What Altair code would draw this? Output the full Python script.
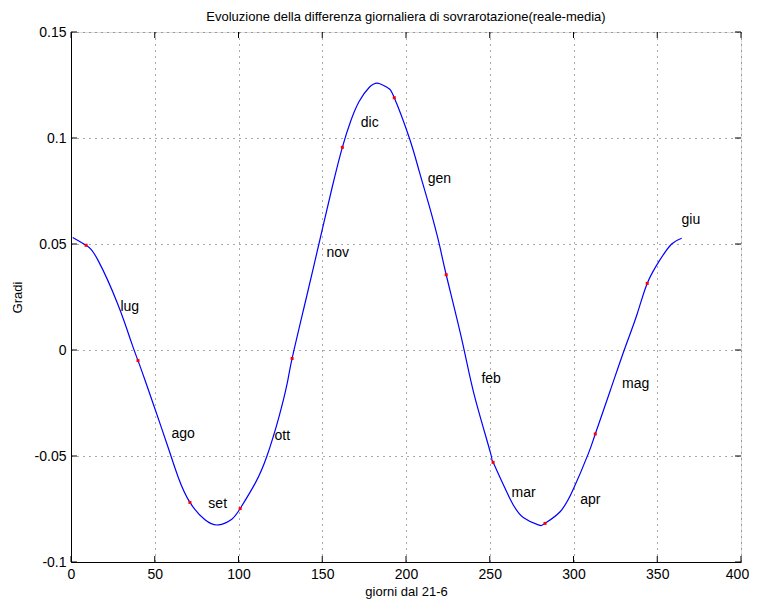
import altair as alt
import pandas as pd

# curve
curve_x = [1, 9, 16, 28, 36, 40, 44, 50, 58, 64, 71, 80, 88, 96, 101, 110, 117, 124, 129, 132,
           140, 148, 156, 162, 167, 172, 178, 183.5, 189, 193, 202, 208, 214, 220, 224, 233.6,
           241, 250.6, 252, 262, 270, 279, 283, 292, 300, 308.8, 313, 322, 330.3, 338, 344,
           351.6, 358.6, 364.6]
curve_y = [0.0531, 0.0494, 0.0425, 0.0215, 0.0037, -0.0050, -0.0138, -0.0275, -0.0460, -0.0600,
           -0.0719, -0.0801, -0.0825, -0.0798, -0.0748, -0.0628, -0.0500, -0.0320, -0.0160, -0.0040,
           0.023, 0.050, 0.0770, 0.0956, 0.1080, 0.1172, 0.1238, 0.1258, 0.1237, 0.1190, 0.100,
           0.084, 0.0676, 0.0495, 0.0355, 0.0040, -0.022, -0.0490, -0.0530, -0.070, -0.079, -0.0825,
           -0.0818, -0.0763, -0.0655, -0.0490, -0.0396, -0.019, 0.0, 0.017, 0.0314, 0.0425, 0.050,
           0.0527]

# red dots (21st of each month)
dot_x = [9, 40, 71, 101, 132, 162, 193, 224, 252, 283, 313, 344]
dot_y = [0.0494, -0.0050, -0.0719, -0.0748, -0.0040, 0.0956, 0.1190, 0.0355, -0.0530,
         -0.0818, -0.0396, 0.0314]

# month labels
month_names = ["lug", "ago", "set", "ott", "nov", "dic", "gen", "feb", "mar", "apr", "mag", "giu"]
month_x = [29.5, 60, 82, 121.5, 152.5, 173, 213, 245, 263, 304, 329, 364.5]
month_y = [0.0203, -0.0396, -0.0726, -0.0406, 0.0459, 0.107, 0.0805, -0.0137, -0.0676,
           -0.0708, -0.0162, 0.0613]

x_ticks = [0, 50, 100, 150, 200, 250, 300, 350, 400]
y_ticks = [-0.1, -0.05, 0, 0.05, 0.1, 0.15]
y_tick_labels = ["-0.1", "-0.05", "0", "0.05", "0.1", "0.15"]

FONT = "Liberation Sans"
W, H = 670, 530

curve = pd.DataFrame({"x": curve_x, "y": curve_y})
dots = pd.DataFrame({"x": dot_x, "y": dot_y})
months = pd.DataFrame({"x": month_x, "y": month_y, "t": month_names})
xt = pd.DataFrame({"v": x_ticks})
yt = pd.DataFrame({"v": y_ticks})

ylabel_expr = " : ".join(
    [f"abs(datum.value - ({v})) < 1e-9 ? '{l}'" for v, l in zip(y_ticks, y_tick_labels)]
) + " : ''"

xscale = alt.Scale(domain=[0, 400], nice=False, zero=False)
yscale = alt.Scale(domain=[-0.1, 0.15], nice=False, zero=False)

xaxis = alt.Axis(values=x_ticks, grid=True, gridDash=[1, 5], gridColor="#555", gridWidth=1,
                 ticks=False, domain=True, domainColor="black", labelFont=FONT, labelFontSize=14,
                 labelColor="black", labelPadding=5, title="giorni dal 21-6", titleFont=FONT,
                 titleFontSize=13, titleFontWeight="normal", titleColor="black", titlePadding=4,
                 labelFlush=False,
                 labelOffset={"condition": {"test": "datum.value == 400", "value": -4}, "value": 0})
yaxis = alt.Axis(values=y_ticks, grid=True, gridDash=[1, 5], gridColor="#555", gridWidth=1,
                 ticks=False, domain=True, domainColor="black", labelFont=FONT, labelFontSize=14,
                 labelColor="black", labelPadding=5, labelExpr=ylabel_expr, title="Gradi",
                 titleFont=FONT, titleFontSize=13, titleFontWeight="normal", titleColor="black",
                 titlePadding=10, labelFlush=False)

line = alt.Chart(curve).mark_line(color="#0000ff", strokeWidth=1.2, interpolate="natural").encode(
    x=alt.X("x:Q", scale=xscale, axis=xaxis),
    y=alt.Y("y:Q", scale=yscale, axis=yaxis),
)

pts = alt.Chart(dots).mark_point(filled=True, color="#ff0000", size=9, opacity=1, shape="square").encode(
    x=alt.X("x:Q", scale=xscale), y=alt.Y("y:Q", scale=yscale)
)

labels = alt.Chart(months).mark_text(align="left", baseline="middle", font=FONT, fontSize=14,
                                     color="black").encode(
    x=alt.X("x:Q", scale=xscale), y=alt.Y("y:Q", scale=yscale), text="t:N"
)

tick_len = 6
bt = alt.Chart(xt).mark_rule(color="black").encode(
    x=alt.X("v:Q", scale=xscale), y=alt.value(H), y2=alt.value(H - tick_len))
tt = alt.Chart(xt).mark_rule(color="black").encode(
    x=alt.X("v:Q", scale=xscale), y=alt.value(0), y2=alt.value(tick_len))
lt = alt.Chart(yt).mark_rule(color="black").encode(
    y=alt.Y("v:Q", scale=yscale), x=alt.value(0), x2=alt.value(tick_len))
rt = alt.Chart(yt).mark_rule(color="black").encode(
    y=alt.Y("v:Q", scale=yscale), x=alt.value(W), x2=alt.value(W - tick_len))

chart = alt.layer(line, bt, tt, lt, rt, pts, labels).properties(
    width=W, height=H,
    title=alt.TitleParams("Evoluzione della differenza giornaliera di sovrarotazione(reale-media)",
                          font=FONT, fontSize=13, fontWeight="normal", color="black", offset=1,
                          anchor="middle"),
    autosize=alt.AutoSizeParams(type="none"),
    padding={"left": 63, "top": 24, "right": 8, "bottom": 38},
).configure_view(stroke="black", strokeWidth=1).configure(background="white")

chart.save("out.html", embed_options={"renderer": "svg", "actions": False})
